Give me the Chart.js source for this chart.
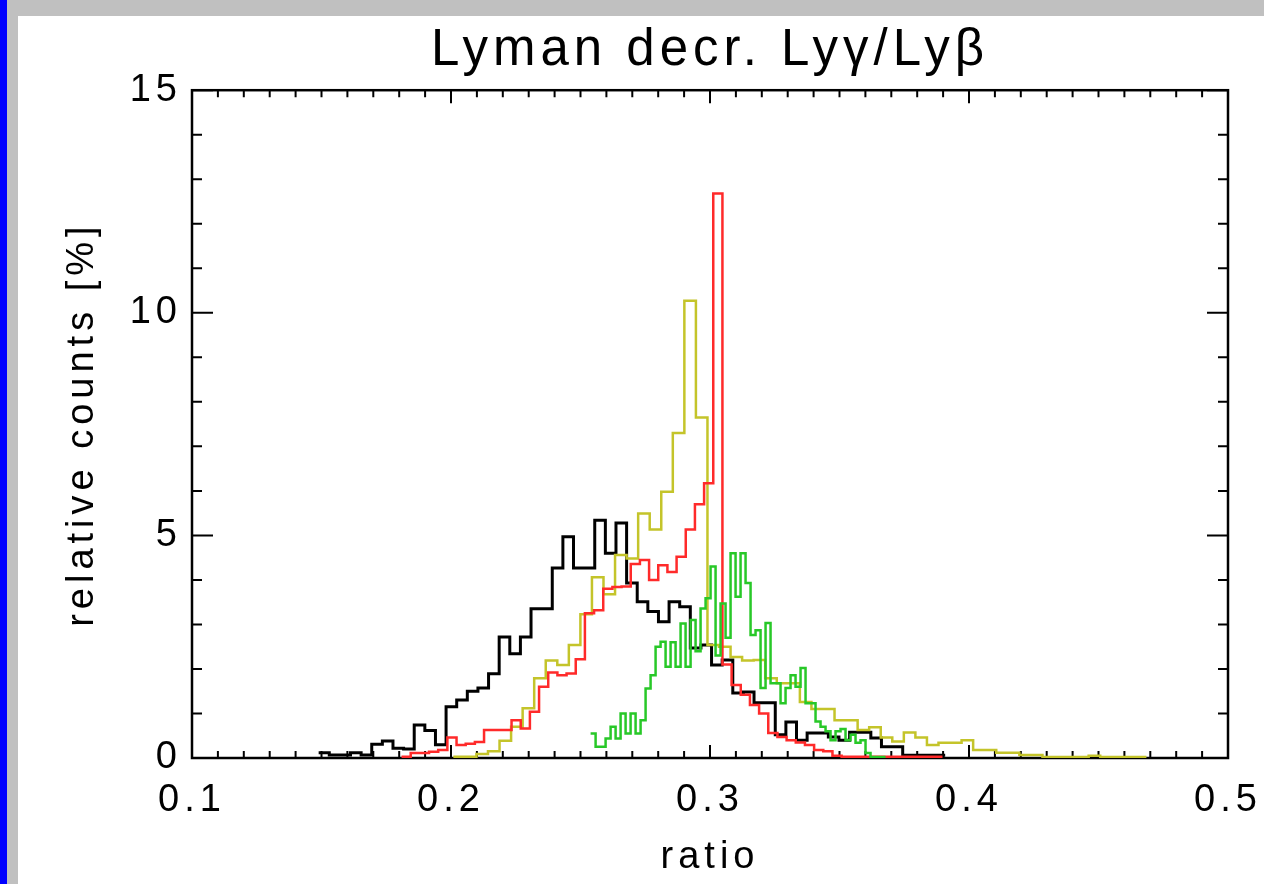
<!DOCTYPE html>
<html>
<head>
<meta charset="utf-8">
<script src="https://cdn.jsdelivr.net/npm/chart.js@4.4.1/dist/chart.umd.min.js"></script>
<style>
  html, body { margin: 0; padding: 0; }
  body { width: 1264px; height: 884px; background: #c0c0c0; overflow: hidden; position: relative; }
  #edge { position: absolute; left: 0; top: 0; width: 7px; height: 884px; background: #0000ff; }
  #panel { position: absolute; left: 18px; top: 16px; width: 1384px; height: 868px; background: #fff; }
</style>
</head>
<body>
<div id="edge"></div>
<div id="panel"><canvas id="chart" width="1384" height="868"></canvas></div>
<script>
// histogram data: left edge of first bin, bin width, counts per bin (relative counts in %)
const titleText = 'Lyman decr. Lyγ/Lyβ';
const xTitle = 'ratio';
const yTitle = 'relative counts [%]';
const xTickValues = [0.1, 0.2, 0.3, 0.4, 0.5];
const yTickValues = [0, 5, 10, 15];

const blackStart = 0.1489;
const blackWidth = 0.0041;
const blackCounts = [
    0.12, 0.07, 0.07, 0.12, 0.07, 0.31, 0.38, 0.22, 0.20, 0.74,
    0.62, 0.30, 1.15, 1.30, 1.50, 1.57, 1.89, 2.72, 2.34, 2.72,
    3.35, 3.35, 4.27, 4.97, 4.27, 4.27, 5.34, 4.60, 5.28, 3.93,
    3.51, 3.29, 3.06, 3.51, 3.40, 2.47, 2.54, 2.09, 2.20, 1.46,
    1.48, 1.24, 1.24, 0.52, 0.81, 0.40, 0.56, 0.56, 0.47, 0.40,
    0.58, 0.58, 0.45, 0.25, 0.25, 0.06, 0.06, 0.06, 0.06
];

const yellowStart = 0.2009;
const yellowWidth = 0.00446;
const yellowCounts = [
    0.03, 0.03, 0.09, 0.15, 0.39, 0.70, 1.12, 1.79, 2.19, 2.09,
    2.54, 3.23, 4.06, 3.68, 4.56, 4.48, 5.49, 5.13, 5.98, 7.30,
    10.27, 7.65, 2.54, 2.50, 2.27, 2.19, 2.20, 1.79, 1.68, 1.68,
    1.26, 1.10, 1.10, 0.85, 0.85, 0.63, 0.69, 0.46, 0.37, 0.57,
    0.46, 0.29, 0.34, 0.34, 0.40, 0.18, 0.18, 0.12, 0.12, 0.07,
    0.07, 0.02, 0.02, 0.02, 0.02, 0.05, 0.02, 0.02, 0.02, 0.02
];

const redStart = 0.1809;
const redWidth = 0.00354;
const redCounts = [
    0.03, 0.11, 0.11, 0.14, 0.18, 0.46, 0.29, 0.32, 0.36, 0.63,
    0.63, 0.63, 0.85, 0.66, 1.04, 1.60, 1.92, 1.86, 1.90, 2.22,
    3.25, 3.32, 3.80, 3.84, 3.85, 4.36, 4.45, 4.00, 4.33, 4.18,
    4.52, 5.13, 5.70, 6.17, 12.68, 2.10, 1.64, 1.42, 1.19, 1.00,
    0.56, 0.47, 0.40, 0.35, 0.29, 0.18, 0.15, 0.05, 0.03, 0.03,
    0.03, 0.03, 0.03, 0.03, 0.03, 0.03, 0.03, 0.03, 0.03
];

const greenStart = 0.2539;
const greenWidth = 0.00193;
const greenCounts = [
    0.55, 0.25, 0.25, 0.44, 0.70, 0.44, 1.00, 0.55, 1.00, 0.55,
    0.85, 1.56, 1.86, 2.50, 2.61, 2.05, 2.60, 2.05, 3.02, 2.05,
    3.10, 2.40, 3.36, 3.59, 4.30, 2.30, 3.47, 2.70, 4.60, 3.62,
    4.60, 3.93, 2.76, 2.87, 1.57, 3.03, 1.68, 1.68, 1.23, 1.57,
    1.86, 1.60, 2.02, 1.23, 1.23, 0.82, 0.70, 0.60, 0.40, 0.60,
    0.65, 0.40, 0.52, 0.34, 0.40, 0.11, 0.02, 0.02, 0.02
];

const xMin = 0.1, xMax = 0.5, xMinorStep = 0.01;
const yMin = 0, yMax = 15, yMinorStep = 1;

const fontFamily = '"Liberation Sans", Arial, sans-serif';

// bins -> step points (left edge of every bin, plus the right edge of the last one)
function toSteps(start, width, counts) {
    const pts = counts.map((c, i) => ({ x: start + i * width, y: c }));
    pts.push({ x: start + counts.length * width, y: counts[counts.length - 1] });
    return pts;
}

function histSet(start, width, counts, color, lineWidth, order) {
    return {
        data: toSteps(start, width, counts),
        borderColor: color,
        borderWidth: lineWidth,
        stepped: true,
        pointRadius: 0,
        fill: false,
        order: order
    };
}

// IDL style box with inward ticks on all four sides
const axisFrame = {
    id: 'axisFrame',
    beforeDatasetsDraw(chart) {
        const { ctx, chartArea: a, scales: { x, y } } = chart;
        ctx.save();
        ctx.strokeStyle = '#000';
        ctx.lineWidth = 2.5;
        ctx.strokeRect(a.left, a.top, a.right - a.left, a.bottom - a.top);
        ctx.lineWidth = 2;
        ctx.beginPath();
        const nx = Math.round((xMax - xMin) / xMinorStep);
        for (let i = 0; i <= nx; i++) {
            const px = x.getPixelForValue(xMin + i * xMinorStep);
            const len = i % 10 === 0 ? 13 : 7;
            ctx.moveTo(px, a.bottom); ctx.lineTo(px, a.bottom - len);
            ctx.moveTo(px, a.top); ctx.lineTo(px, a.top + len);
        }
        const ny = Math.round((yMax - yMin) / yMinorStep);
        for (let j = 0; j <= ny; j++) {
            const py = y.getPixelForValue(yMin + j * yMinorStep);
            const len = j % 5 === 0 ? 21 : 10;
            ctx.moveTo(a.left, py); ctx.lineTo(a.left + len, py);
            ctx.moveTo(a.right, py); ctx.lineTo(a.right - len, py);
        }
        ctx.stroke();
        ctx.restore();
    }
};

// wide letter spacing like the hershey font
const spacing = {
    id: 'spacing',
    beforeUpdate(chart) { chart.ctx.letterSpacing = '5px'; },
    beforeDraw(chart) { chart.ctx.letterSpacing = '5px'; }
};

const ctx = document.getElementById('chart').getContext('2d');
const chart = new Chart(ctx, {
    type: 'line',
    data: {
        datasets: [
            histSet(blackStart, blackWidth, blackCounts, '#000000', 3, 4),
            histSet(yellowStart, yellowWidth, yellowCounts, '#c4c42a', 2.5, 3),
            histSet(redStart, redWidth, redCounts, '#ff2a2a', 2.5, 2),
            histSet(greenStart, greenWidth, greenCounts, '#28c828', 2.5, 1)
        ]
    },
    options: {
        responsive: false,
        animation: false,
        layout: { padding: 0 },
        plugins: {
            legend: { display: false },
            tooltip: { enabled: false },
            title: {
                display: true,
                text: titleText,
                color: '#000',
                font: { family: fontFamily, size: 51, weight: 'normal' },
                padding: { top: 4, bottom: 9 }
            }
        },
        scales: {
            x: {
                type: 'linear',
                min: xMin,
                max: xMax,
                afterBuildTicks: s => { s.ticks = xTickValues.map(v => ({ value: v })); },
                afterFit: s => { s.height = 126; },
                ticks: {
                    callback: v => v.toFixed(1),
                    color: '#000',
                    font: { family: fontFamily, size: 38 },
                    padding: 20,
                    maxRotation: 0,
                    autoSkip: false
                },
                grid: { display: false, drawTicks: false },
                border: { display: false },
                title: {
                    display: true,
                    text: xTitle,
                    color: '#000',
                    font: { family: fontFamily, size: 38 },
                    padding: { top: 0, bottom: 4 }
                }
            },
            y: {
                type: 'linear',
                min: yMin,
                max: yMax,
                afterBuildTicks: s => { s.ticks = yTickValues.map(v => ({ value: v })); },
                afterFit: s => { s.width = 174; },
                ticks: {
                    color: '#000',
                    font: { family: fontFamily, size: 38 },
                    padding: 10
                },
                grid: { display: false, drawTicks: false },
                border: { display: false },
                title: {
                    display: true,
                    text: yTitle,
                    color: '#000',
                    font: { family: fontFamily, size: 38 },
                    padding: { top: 42, bottom: 0 }
                }
            },
            y2: {
                type: 'linear',
                position: 'right',
                min: yMin,
                max: yMax,
                afterFit: s => { s.width = 174; },
                ticks: { display: false },
                grid: { display: false, drawTicks: false },
                border: { display: false }
            }
        }
    },
    plugins: [spacing, axisFrame]
});
</script>
</body>
</html>
